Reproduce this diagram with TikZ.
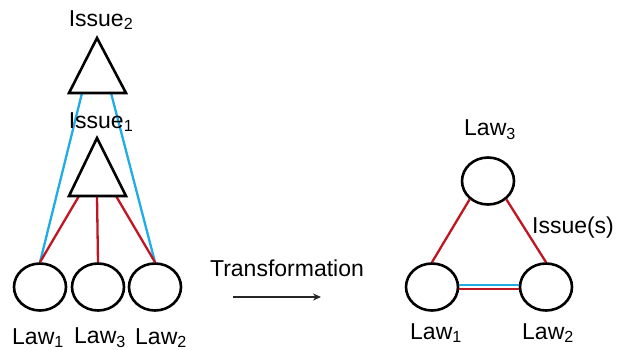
\documentclass[tikz,border=0pt]{standalone}
\usepackage{fontspec}
\setmainfont{Liberation Sans}
\usetikzlibrary{shapes.geometric,arrows.meta}
\definecolor{lawred}{RGB}{192,22,34}
\definecolor{issueblue}{RGB}{32,172,228}
\tikzset{
  law/.style={draw=black, line width=2.6pt, ellipse, minimum width=52pt, minimum height=47pt, inner sep=0pt},
  tri/.style={draw=black, line width=2.6pt, line join=miter},
  lbl/.style={font=\fontsize{23}{26}\selectfont, inner sep=0pt},
  redlink/.style={draw=lawred, line width=2.3pt},
  bluelink/.style={draw=issueblue, line width=2.3pt},
}
\begin{document}
\begin{tikzpicture}[x=1pt, y=-1pt]
\useasboundingbox (0,0) rectangle (622,350);

% ---- hierarchy of issues over laws ----
\coordinate (i2top) at (97,38);
\coordinate (i2bl) at (69,93);
\coordinate (i2br) at (126,93);
\coordinate (i2l) at (82,93);
\coordinate (i2r) at (111,93);
\coordinate (i1top) at (97,138);
\coordinate (i1bl) at (69,196);
\coordinate (i1br) at (126,196);
\coordinate (i1l) at (79,196);
\coordinate (i1m) at (97,196);
\coordinate (i1r) at (116,196);

\node[law] (l1) at (40,287) {};
\node[law] (l3) at (98,287) {};
\node[law] (l2) at (155,287) {};

\draw[bluelink] (i2l) -- (l1.north);
\draw[bluelink] (i2r) -- (l2.north);
\draw[redlink] (i1l) -- (l1.north);
\draw[redlink] (i1m) -- (l3.north);
\draw[redlink] (i1r) -- (l2.north);

\draw[tri] (i2top) -- (i2br) -- (i2bl) -- cycle;
\draw[tri] (i1top) -- (i1br) -- (i1bl) -- cycle;

\node[lbl] (t2) at (101,20) {Issue\textsubscript{2}};
\node[lbl] (t1) at (101,122) {Issue\textsubscript{1}};
\node[lbl] (n1) at (38,338) {Law\textsubscript{1}};
\node[lbl] (n3) at (100,338) {Law\textsubscript{3}};
\node[lbl] (n2) at (161,338) {Law\textsubscript{2}};

% ---- transformation arrow ----
\node[lbl] (tr) at (287,268) {Transformation};
\coordinate (as) at (233,297);
\coordinate (ae) at (321,297);
\draw[line width=1.3pt, draw=black!85, -{Stealth[length=8pt,width=7pt]}] (as) -- (ae);

% ---- network of laws ----
\node[law] (r3) at (488,181) {};
\node[law] (r1) at (432,287) {};
\node[law] (r2) at (546,287) {};

\draw[redlink] (r3.225) -- (r1.north);
\draw[redlink] (r3.-45) -- (r2.north);
\draw[bluelink] ([yshift=1.7pt]r1.east) -- ([yshift=1.7pt]r2.west);
\draw[redlink] ([yshift=-1.7pt]r1.east) -- ([yshift=-1.7pt]r2.west);

\node[lbl] (m3) at (490,130) {Law\textsubscript{3}};
\node[lbl] (m1) at (436,333) {Law\textsubscript{1}};
\node[lbl] (m2) at (548,333) {Law\textsubscript{2}};
\node[lbl] (is) at (573,228) {Issue(s)};
\end{tikzpicture}
\end{document}
